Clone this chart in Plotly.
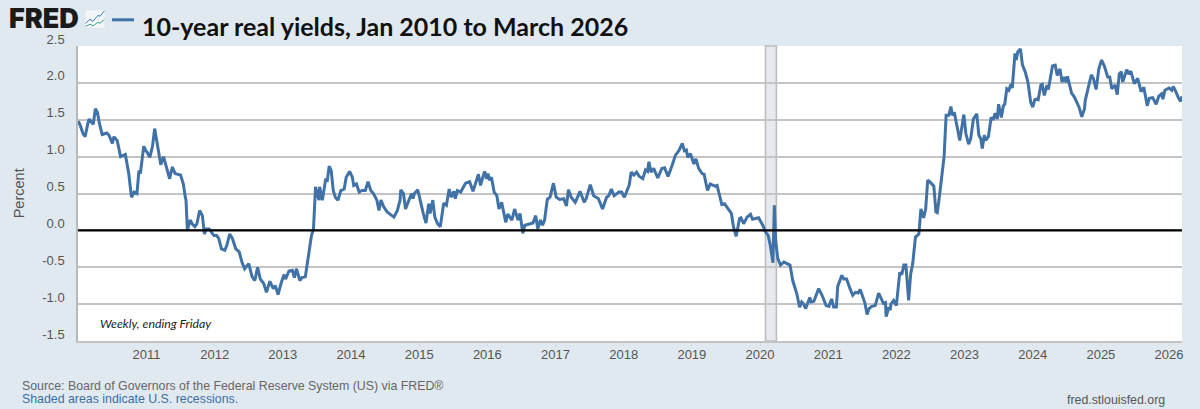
import plotly.graph_objects as go

# Fractional years since Jan 2010
years_since_2010 = [
0.00,.03,.07,.10,.14,.16,.19,.22,.25,.28,.31,.35,.42,.45,.50,.52,.57,.62,.69,.74,.78,.82,.86,.89,.91,.96,.99,
1.01,1.05,1.09,1.12,1.14,1.17,1.21,1.25,1.30,1.34,1.38,1.42,1.50,1.54,1.57,1.58,1.60,1.64,1.67,1.71,1.74,1.78,1.82,1.85,1.88,1.92,1.95,1.99,
2.03,2.06,2.10,2.15,2.18,2.22,2.26,2.31,2.36,2.40,2.44,2.50,2.55,2.59,2.63,2.67,2.72,2.76,2.81,2.86,2.89,2.93,2.98,
3.02,3.04,3.09,3.14,3.17,3.20,3.25,3.28,3.33,3.38,3.42,3.45,3.48,3.53,3.54,3.58,3.63,3.65,3.68,3.71,3.74,3.77,3.81,3.85,3.90,3.93,3.98,
4.02,4.04,4.08,4.12,4.16,4.21,4.25,4.29,4.33,4.38,4.41,4.44,4.48,4.53,4.63,4.68,4.72,4.73,4.77,4.80,4.85,4.89,4.91,4.93,4.98,
5.02,5.06,5.10,5.14,5.16,5.20,5.23,5.27,5.31,5.36,5.40,5.44,5.47,5.51,5.53,5.56,5.61,5.68,5.74,5.79,5.87,5.90,5.96,5.99,
6.01,6.03,6.06,6.10,6.14,6.17,6.21,6.27,6.30,6.36,6.40,6.45,6.48,6.52,6.55,6.61,6.67,6.71,6.74,6.78,6.81,6.84,6.88,6.92,6.97,
7.01,7.06,7.12,7.16,7.19,7.23,7.29,7.36,7.42,7.45,7.51,7.56,7.63,7.69,7.75,7.78,7.82,7.86,7.93,7.97,
8.01,8.08,8.11,8.15,8.19,8.23,8.28,8.32,8.35,8.37,8.40,8.44,8.50,8.56,8.60,8.65,8.71,8.76,8.81,8.86,8.89,8.92,8.94,8.98,
9.03,9.06,9.10,9.15,9.18,9.23,9.27,9.34,9.37,9.41,9.44,9.48,9.54,9.58,9.61,9.65,9.70,9.72,9.76,9.81,9.86,9.89,9.98,
10.04,10.08,10.12,10.15,10.18,10.19,10.21,10.23,10.26,10.30,10.35,10.40,10.44,10.48,10.54,10.58,10.61,10.64,10.67,10.73,10.75,10.79,10.86,10.91,10.97,
11.01,11.05,11.08,11.12,11.14,11.20,11.23,11.27,11.32,11.36,11.40,11.44,11.47,11.51,11.54,11.57,11.60,11.64,11.69,11.74,11.79,11.81,11.84,11.85,11.89,11.91,11.92,11.96,
12.00,12.03,12.05,12.08,12.11,12.14,12.16,12.18,12.21,12.24,12.28,12.30,12.33,12.36,12.40,12.43,12.46,12.50,12.55,12.58,12.60,12.63,12.67,12.70,12.73,12.77,12.80,12.82,12.85,12.89,12.93,12.99,
13.02,13.06,13.09,13.13,13.18,13.21,13.24,13.26,13.29,13.31,13.35,13.39,13.42,13.45,13.48,13.50,13.54,13.57,13.59,13.62,13.65,13.68,13.70,13.74,13.76,13.78,13.82,13.85,13.89,13.93,13.97,
14.00,14.03,14.05,14.08,14.12,14.14,14.17,14.21,14.23,14.29,14.33,14.36,14.40,14.43,14.46,14.49,14.51,14.55,14.57,14.61,14.65,14.68,14.72,14.76,14.77,14.82,14.86,14.89,14.93,14.97,
15.01,15.05,15.10,15.13,15.16,15.21,15.24,15.27,15.30,15.32,15.38,15.41,15.44,15.49,15.54,15.59,15.63,15.68,15.71,15.76,15.81,15.85,15.89,15.91,15.94,
16.00,16.04,16.06,16.09,16.14,16.17,16.19]

real_yield = [
1.48,1.42,1.31,1.27,1.45,1.51,1.47,1.44,1.65,1.60,1.45,1.30,1.32,1.29,1.18,1.27,1.22,1.00,1.03,.77,.45,.52,.50,.81,.77,1.14,1.08,
1.06,.99,1.15,1.38,1.27,1.08,.89,1.00,.81,.70,.86,.77,.75,.63,.45,.41,0,.14,.09,.05,.09,.27,.20,-.05,.02,.02,-.02,-.07,
-.07,-.11,-.25,-.27,-.20,-.05,-.11,-.25,-.29,-.43,-.52,-.45,-.63,-.68,-.50,-.66,-.72,-.84,-.69,-.79,-.75,-.87,-.70,
-.60,-.66,-.55,-.54,-.64,-.52,-.68,-.64,-.63,-.32,-.07,.02,.59,.41,.59,.41,.70,.66,.87,.81,.54,.45,.41,.54,.56,.72,.80,
.72,.61,.63,.52,.54,.54,.66,.54,.50,.41,.27,.41,.32,.25,.18,.27,.41,.55,.50,.29,.41,.50,.43,.50,.55,
.38,.23,.10,.36,.23,.41,.18,.09,.05,.37,.34,.56,.45,.53,.43,.54,.52,.64,.66,.53,.76,.61,.80,.70,
.77,.68,.72,.52,.47,.29,.38,.11,.22,.14,.29,.14,.23,-.04,.07,.08,.10,.20,.02,.14,.07,.14,.42,.45,.64,
.45,.42,.43,.33,.55,.45,.38,.53,.38,.43,.62,.47,.43,.29,.45,.47,.56,.47,.52,.52,
.45,.61,.79,.75,.79,.73,.70,.82,.80,.93,.79,.84,.71,.84,.85,.73,.88,1.02,1.08,1.18,1.08,1.09,.99,1.04,
.90,.97,.84,.77,.76,.54,.63,.60,.61,.45,.35,.36,.29,.23,.05,-.08,.16,.17,.09,.18,.22,.15,.17,
.07,-.02,-.07,-.20,-.44,-.44,.34,-.14,-.38,-.47,-.43,-.45,-.47,-.68,-.86,-1.04,-.97,-1.00,-1.06,-.91,-.97,-.96,-.79,-.88,-1.02,
-1.03,-.93,-1.04,-1.04,-.76,-.61,-.66,-.66,-.79,-.88,-.84,-.85,-.80,-.90,-.99,-1.14,-1.06,-1.03,-1.02,-.85,-.94,-.99,-.98,-1.17,-1.04,-1.08,-1.00,-.95,
-1.02,-.77,-.57,-.60,-.47,-.47,-.77,-.95,-.59,-.45,-.09,-.07,-.05,.29,.17,.29,.68,.65,.60,.25,.24,.45,.77,1.00,1.56,1.56,1.68,1.56,1.60,1.42,1.22,1.57,
1.31,1.17,1.24,1.51,1.58,1.29,1.24,1.11,1.29,1.22,1.27,1.53,1.50,1.59,1.51,1.71,1.53,1.69,1.71,1.92,1.90,1.98,1.93,2.40,2.31,2.42,2.46,2.24,2.15,2.01,1.74,
1.67,1.77,1.78,1.77,1.97,1.98,1.83,1.97,1.91,2.23,2.24,2.10,2.19,2.01,2.08,2.01,2.09,1.94,1.86,1.81,1.72,1.67,1.54,1.65,1.76,1.97,2.11,2.06,1.91,2.19,
2.31,2.23,2.08,2.08,1.92,1.97,1.84,2.12,2.15,2.01,2.18,2.12,2.16,1.99,2.06,1.88,1.94,1.69,1.79,1.80,1.71,1.82,1.85,1.78,1.90,
1.93,1.90,1.95,1.90,1.79,1.75,1.82]

year_ticks = list(range(2011, 2027))
year_labels = [str(y) for y in year_ticks]
percent_ticks = [2.5, 2.0, 1.5, 1.0, 0.5, 0.0, -0.5, -1.0, -1.5]
percent_labels = ["2.5", "2.0", "1.5", "1.0", "0.5", "0.0", "-0.5", "-1.0", "-1.5"]
recession_start, recession_end = 2020.08, 2020.24

# --- page geometry (pixels in a 1200x409 page) ---
W, H = 1200, 409
L, R, T, B = 78, 1182, 45.7, 340.7
def px(x): return (x - L) / (R - L)
def py(y): return (B - y) / (B - T)

x_vals = [2010 + v for v in years_since_2010]
LINE = "#4072a8"
GRID = "#c4c4c4"
BG = "#e1e9f0"

fig = go.Figure(go.Scatter(x=x_vals, y=real_yield, mode="lines",
                           line=dict(color=LINE, width=3, shape="linear"),
                           hoverinfo="skip", showlegend=False))

shapes = [
    # recession band
    dict(type="rect", xref="x", yref="paper", x0=recession_start, x1=recession_end, y0=0, y1=1,
         fillcolor="#e6e9ed", line=dict(color="#bcbcbc", width=1.6), layer="below"),
    # zero line
    dict(type="line", xref="paper", yref="y", x0=0, x1=1, y0=0, y1=0,
         line=dict(color="#000000", width=2.2), layer="above"),
    # legend key
    dict(type="line", xref="paper", yref="paper", x0=px(112), x1=px(134), y0=py(19.5), y1=py(19.5),
         line=dict(color=LINE, width=3)),
    # FRED graph icon
    dict(type="rect", xref="paper", yref="paper", x0=px(85), x1=px(105), y0=py(28), y1=py(9.5),
         fillcolor="#f3f6f8", line=dict(color="#d5dce2", width=0.5)),
    dict(type="path", xref="paper", yref="paper",
         path=f"M {px(85.5)} {py(23)} L {px(90)} {py(19)} L {px(93)} {py(21)} L {px(98)} {py(15)} L {px(100)} {py(16)} L {px(104.5)} {py(10.5)}",
         line=dict(color="#3f7fc0", width=1)),
    dict(type="path", xref="paper", yref="paper",
         path=f"M {px(85.5)} {py(26)} L {px(90)} {py(24)} L {px(93)} {py(25.5)} L {px(98)} {py(22)} L {px(100)} {py(23)} L {px(104.5)} {py(19)}",
         line=dict(color="#3aa58a", width=1)),
]

def note(x, y, text, size, color, family="Liberation Sans", anchor="left", weight=None, **kw):
    font = dict(size=size, color=color, family=family)
    if weight:
        font["weight"] = weight
    return dict(xref="paper", yref="paper", x=px(x), y=py(y), text=text, showarrow=False,
                xanchor=anchor, yanchor="middle", align=anchor, font=font, **kw)

annotations = [
    note(7, 18.5, "FRED", 27, "#1a1a1a", family="Inter", weight=900),
    note(140, 26, "<b>10-year real yields, Jan 2010 to March 2026</b>", 25, "#111111", family="Lato"),
    note(19, 193, "Percent", 14.5, "#555555", anchor="center", textangle=-90),
    note(98, 323, "<i>Weekly, ending Friday</i>", 12.3, "#222222", family="Lato"),
    note(20, 386, "Source: Board of Governors of the Federal Reserve System (US) via FRED®", 12.35, "#666666"),
    note(20, 399, "Shaded areas indicate U.S. recessions.", 12.35, "#3a6ea5"),
    note(1167, 400, "fred.stlouisfed.org", 12.35, "#555555", anchor="right"),
]

fig.update_layout(
    width=W, height=H, autosize=False,
    margin=dict(l=L, r=W - R, t=T, b=H - B, pad=0),
    paper_bgcolor=BG, plot_bgcolor="#ffffff",
    showlegend=False, shapes=shapes, annotations=annotations,
    xaxis=dict(range=[2010 - 0.0044, 2026.19], tickmode="array", tickvals=year_ticks, ticktext=year_labels,
               showgrid=False, zeroline=False, showline=True, linecolor=GRID, linewidth=1.5,
               ticks="outside", ticklen=3, tickcolor="#d0dae4", tickwidth=1, ticklabelstandoff=-2,
               tickfont=dict(family="Liberation Sans", size=13, color="#555555")),
    yaxis=dict(range=[-1.5, 2.5], tickmode="array", tickvals=percent_ticks, ticktext=percent_labels,
               showgrid=True, gridcolor=GRID, gridwidth=1.6, zeroline=False,
               showline=True, linecolor="#b8b8b8", linewidth=1.5, ticks="", ticklabelshift=-7,
               ticklabelstandoff=9,
               tickfont=dict(family="Liberation Sans", size=13, color="#555555")),
)
fig.write_html("out.html", config=dict(displayModeBar=False),
               post_script="document.body.style.margin='0';document.documentElement.style.overflow='hidden';")
